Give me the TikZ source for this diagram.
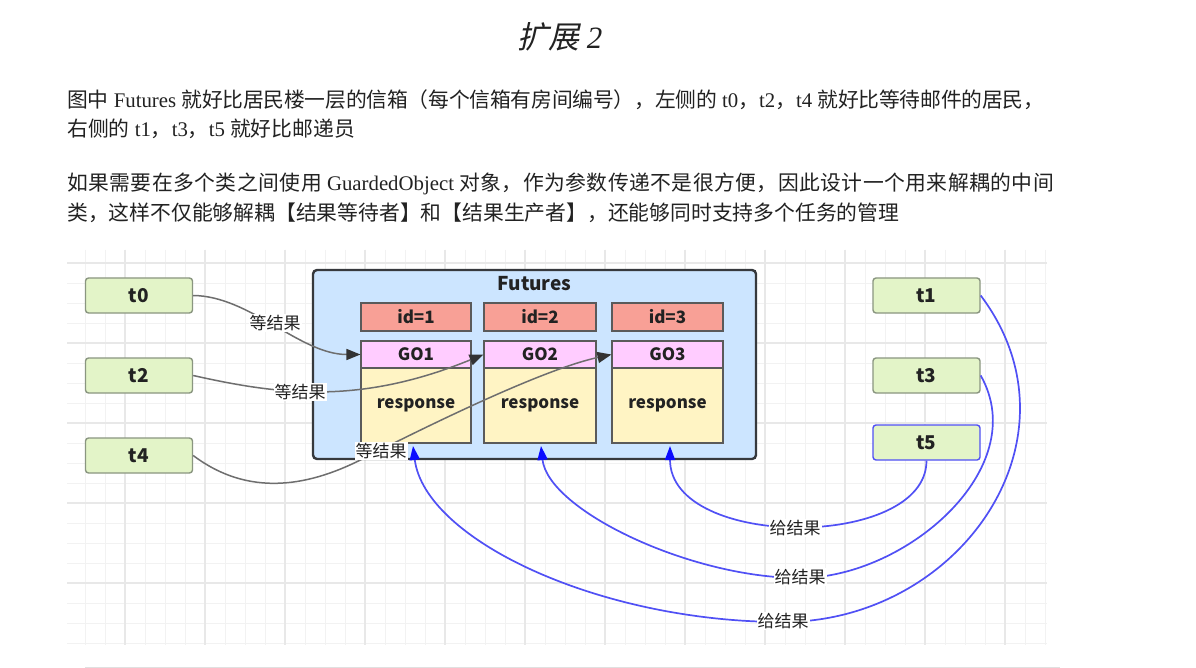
\documentclass[tikz,border=0pt]{standalone}
\usepackage{fontspec}
\setmainfont{Liberation Serif}
\newfontfamily\cjk{Noto Sans CJK SC}
\newfontfamily\cjkwide{Noto Sans CJK SC}[LetterSpace=2.2]
\newfontfamily\cjknarrow{Noto Sans CJK SC}[LetterSpace=-1.0]
\newfontfamily\cjkit{Noto Sans CJK SC}[FakeSlant=0.22]
\usetikzlibrary{arrows.meta}
\definecolor{gridminor}{HTML}{F2F2F2}
\definecolor{gridmajor}{HTML}{E8E8E8}
\definecolor{tfill}{HTML}{E3F4C8}
\definecolor{tdraw}{HTML}{8A9680}
\definecolor{futfill}{HTML}{CCE5FF}
\definecolor{futdraw}{HTML}{36393D}
\definecolor{idfill}{HTML}{F8A096}
\definecolor{gofill}{HTML}{FFCCFF}
\definecolor{respfill}{HTML}{FFF4C4}
\definecolor{boxdraw}{HTML}{5A5A5A}
\definecolor{bluel}{HTML}{5050F5}
\definecolor{bluetip}{HTML}{0A0AFF}
\definecolor{grayl}{HTML}{6E6E6E}
\definecolor{txt}{HTML}{222222}
\tikzset{
  gmin/.style={draw=gridminor, line width=0.9pt},
  gmaj/.style={draw=gridmajor, line width=1.3pt},
  tbox/.style={draw=tdraw, fill=tfill, line width=1.4pt, rounded corners=3pt,
    minimum width=107pt, minimum height=35pt, inner sep=0pt,
    font=\cjk\bfseries\fontsize{19}{19}\selectfont, text=txt},
  fut/.style={draw=futdraw, fill=futfill, line width=2.4pt, rounded corners=4pt,
    minimum width=443pt, minimum height=189pt, inner sep=0pt},
  cell/.style={draw=boxdraw, line width=1.1pt, inner sep=0pt, text=txt,
    font=\cjk\bfseries\fontsize{17}{17}\selectfont},
  idc/.style={cell, fill=idfill, minimum height=28pt},
  goc/.style={cell, fill=gofill, minimum height=27pt},
  rsc/.style={cell, fill=respfill, minimum height=75pt},
  lbl/.style={fill=white, inner sep=1pt, text=txt, font=\cjk\fontsize{17}{17}\selectfont},
  wait/.style={draw=grayl, line width=1.5pt, -{Triangle[length=14pt,width=11pt,color=black!80]}},
  give/.style={draw=bluel, line width=1.7pt, -{Triangle[length=14pt,width=10pt,color=bluetip]}},
  para/.style={anchor=base west, inner sep=0pt, text=txt, font=\fontsize{20.8}{21}\selectfont}
}
\begin{document}
\begin{tikzpicture}[x=1pt,y=-1pt]
\useasboundingbox (0,0) rectangle (1196,668);
\fill[white] (0,0) rectangle (1196,668);
% title and text
\node[anchor=base, inner sep=0pt, text=txt] (title) at (560,49)
  {{\cjkit\fontsize{31}{31}\selectfont 扩展}\hspace{7pt}{\itshape\fontsize{31}{31}\selectfont 2}};
\node[para] (p1) at (67,108) {{\cjknarrow 图中} Futures {\cjknarrow 就好比居民楼一层的信箱（每个信箱有房间编号），左侧的} t0{\cjknarrow ，}t2{\cjknarrow ，}t4 {\cjknarrow 就好比等待邮件的居民，}};
\node[para] (p2) at (67,137) {{\cjk 右侧的} t1{\cjk ，}t3{\cjk ，}t5 {\cjk 就好比邮递员}};
\node[para] (p3) at (67,191) {{\cjkwide 如果需要在多个类之间使用} GuardedObject {\cjkwide 对象，作为参数传递不是很方便，因此设计一个用来解耦的中间}};
\node[para] (p4) at (67,221) {{\cjk 类，这样不仅能够解耦【结果等待者】和【结果生产者】，还能够同时支持多个任务的管理}};
% grid
\foreach \x in {85,105,...,1045} \draw[gmin] (\x,250) -- (\x,645);
\foreach \y in {263,283,...,643} \draw[gmin] (67,\y) -- (1047,\y);
\foreach \x in {125,205,...,1005} \draw[gmaj] (\x,250) -- (\x,645);
\foreach \y in {263,343,...,583} \draw[gmaj] (67,\y) -- (1047,\y);
\draw[draw=black!12, line width=1pt] (85,667) -- (1060,667);
% Futures
\node[fut] (fut) at (534.5,364.5) {};
\node[anchor=center, text=txt, font=\cjk\bfseries\fontsize{19}{19}\selectfont] (futt) at (534.5,284) {Futures};
\node[idc, minimum width=110pt] (id1) at (416,317) {id=1};
\node[idc, minimum width=112pt] (id2) at (540,317) {id=2};
\node[idc, minimum width=111pt] (id3) at (667.5,317) {id=3};
\node[goc, minimum width=110pt] (go1) at (416,354.5) {GO1};
\node[goc, minimum width=112pt] (go2) at (540,354.5) {GO2};
\node[goc, minimum width=111pt] (go3) at (667.5,354.5) {GO3};
\node[rsc, minimum width=110pt] (r1) at (416,405.5) {response};
\node[rsc, minimum width=112pt] (r2) at (540,405.5) {response};
\node[rsc, minimum width=111pt] (r3) at (667.5,405.5) {response};
% threads
\node[tbox] (t0) at (139,295.5) {t0};
\node[tbox] (t2) at (139,375.5) {t2};
\node[tbox] (t4) at (139,455.5) {t4};
\node[tbox] (t1) at (926.5,295.5) {t1};
\node[tbox] (t3) at (926.5,375.5) {t3};
\node[tbox, draw=bluel] (t5) at (926.5,442.5) {t5};
% arrow end points
\coordinate (a1) at (413,446);
\coordinate (a2) at (541,446);
\coordinate (a3) at (670,446);
% waiting connectors
\draw[wait] (t0.east) .. controls (250,296) and (300,354.5) .. (go1.west);
\draw[wait] (t2.east) .. controls (280,395) and (360,405) .. (go2.west);
\draw[wait] (t4.east) .. controls (255,502) and (320,482) .. (370,455) .. controls (420,430) and (540,370) .. (go3.west);
\node[lbl] (w0) at (275,323) {等结果};
\node[lbl] (w2) at (300,392) {等结果};
\node[lbl] (w4) at (381,451) {等结果};
% giving connectors
\draw[give] (t5.south) .. controls (926.5,550) and (670,550) .. (a3);
\draw[give] (t3.east) .. controls (1033,468) and (906,578) .. (800,578) .. controls (690,578) and (548,510) .. (a2);
\draw[give] (t1.east) .. controls (1088,438) and (960,622) .. (783,622) .. controls (600,622) and (425,540) .. (a1);
\node[lbl] (g5) at (795,528) {给结果};
\node[lbl] (g3) at (800,577) {给结果};
\node[lbl] (g1) at (783,621) {给结果};
\end{tikzpicture}
\end{document}
